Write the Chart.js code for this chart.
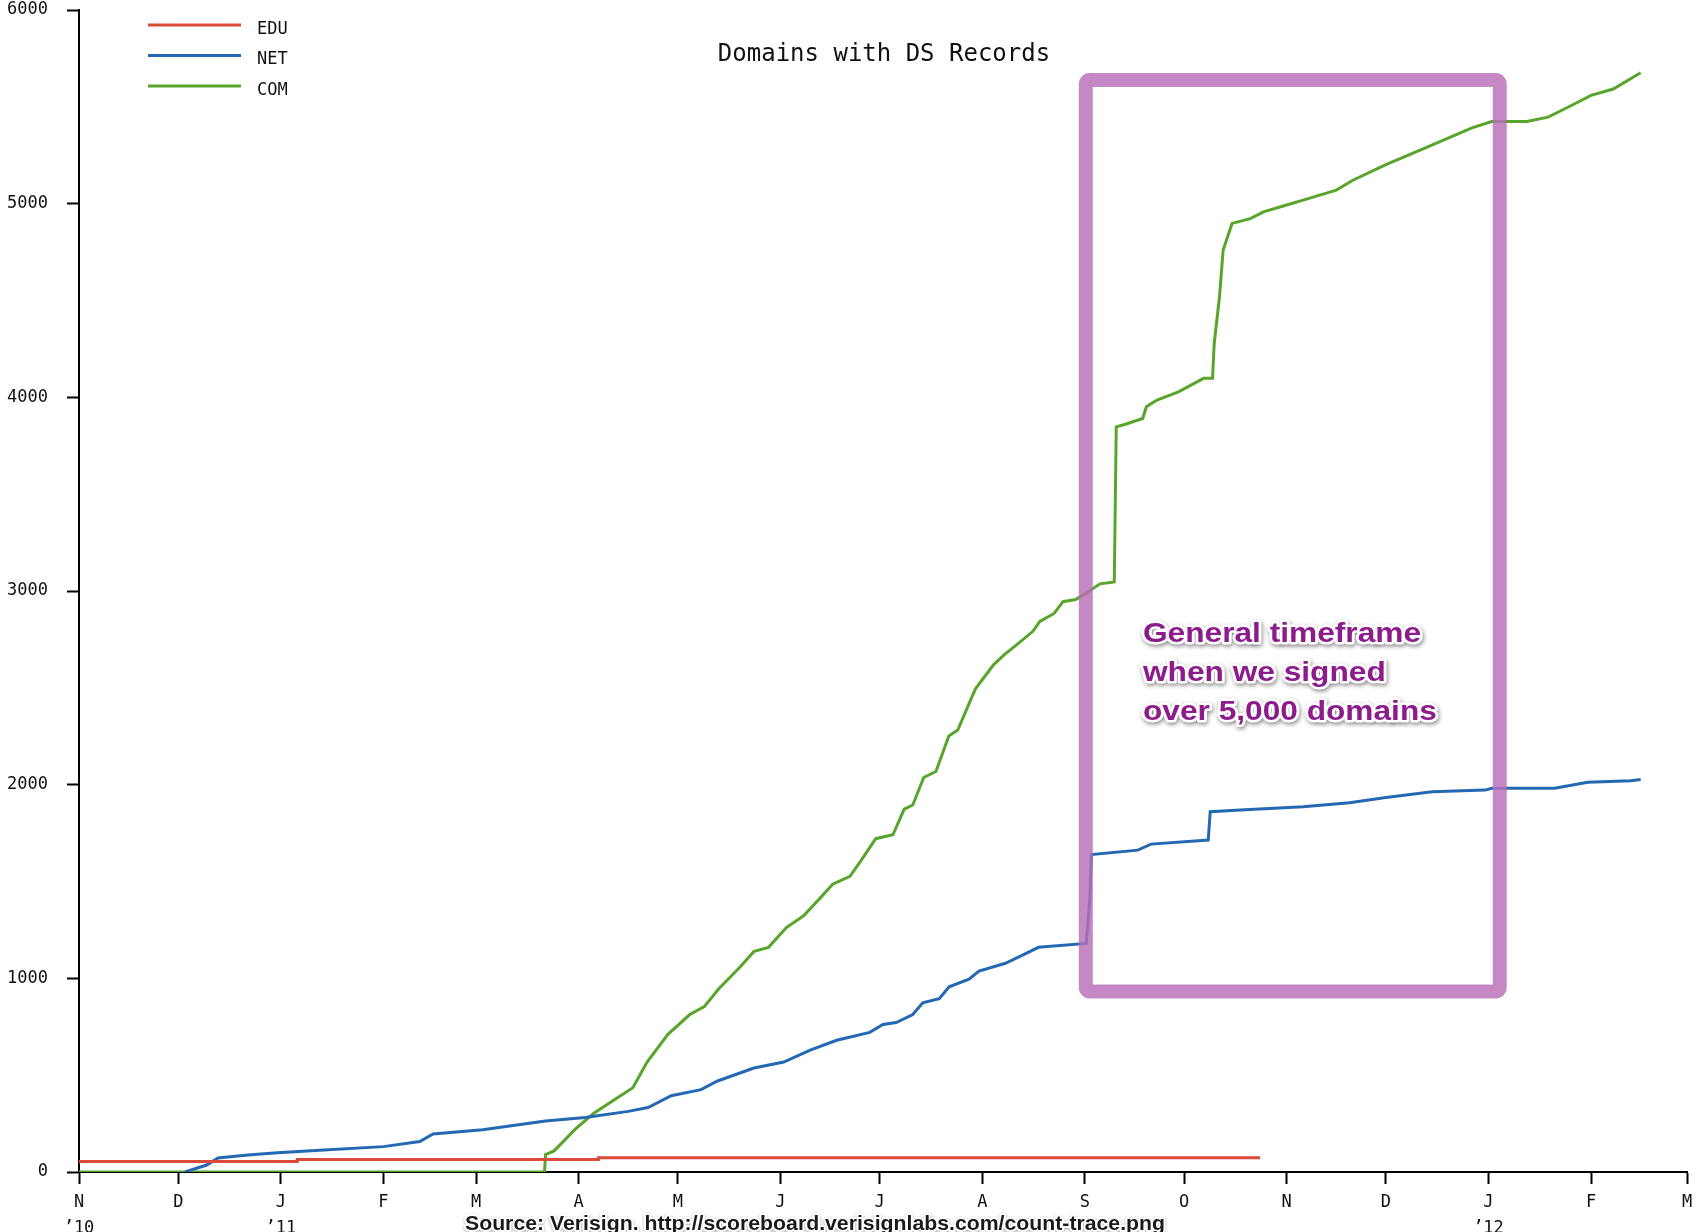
<!DOCTYPE html>
<html>
<head>
<meta charset="utf-8">
<script src="https://cdn.jsdelivr.net/npm/chart.js"></script>
<style>
  html, body { margin: 0; padding: 0; background: #ffffff; }
  #wrap { width: 1698px; height: 1232px; position: relative; overflow: hidden; }
  canvas { display: block; }
</style>
</head>
<body>
<div id="wrap"><canvas id="c" width="1698" height="1232"></canvas></div>
<script>
// ---------- DATA (days since 1 Nov 2010) ----------
const seriesLabels = ['EDU', 'NET', 'COM'];
const seriesColors = ['#dc4a3a', '#2468b4', '#58a52c'];
const seriesStepped = ['after', false, false];

const eduDays   = [0, 66, 157, 286, 357];
const eduValues = [45, 54, 65, 74, 74];

const netDays   = [32, 38.6, 42, 51, 60, 74, 92, 103, 107, 122, 141, 153, 166, 172, 179, 188, 193, 204, 213, 221, 229, 239, 243, 247, 252, 255, 260, 263, 269, 272, 280, 285, 290, 304.4, 305.5, 306, 320, 324, 341.3, 341.9, 351, 370, 384, 395, 409, 425, 427, 446, 456, 469, 472];
const netValues = [0, 36, 72, 88, 100, 114, 131, 157, 196, 218, 263, 282, 313, 333, 394, 425, 470, 537, 568, 629, 680, 721, 762, 772, 813, 874, 895, 956, 996, 1037, 1078, 1119, 1160, 1180, 1400, 1639, 1662, 1693, 1714, 1860, 1869, 1886, 1907, 1934, 1963, 1972, 1981, 1981, 2012, 2020, 2027];

const comDays   = [0, 140.7, 141, 143.6, 150, 155.5, 161, 167.4, 171.7, 178, 184.6, 189, 193.3, 199.8, 204, 208.4, 213.8, 219, 223.5, 227.8, 233, 236.4, 240.8, 246, 249.4, 252, 255.3, 259, 262.9, 265.6, 269.9, 271, 276.4, 279.6, 284, 288.3, 290.4, 294.7, 297.4, 301.2, 304, 308.6, 312.9, 313.5, 316, 321.5, 322.6, 325.8, 332.3, 339.9, 342.6, 343.1, 344.7, 345.8, 348.5, 354, 358, 364.7, 370, 380, 385, 395, 408, 421, 427, 437.6, 444, 450.6, 457, 463.7, 472];
const comValues = [0, 0, 90, 109, 221, 302, 364, 435, 568, 711, 813, 854, 945, 1058, 1139, 1160, 1262, 1323, 1405, 1486, 1527, 1609, 1721, 1741, 1874, 1895, 2037, 2068, 2251, 2282, 2455, 2496, 2619, 2670, 2731, 2792, 2843, 2884, 2945, 2956, 2985, 3037, 3047, 3848, 3860, 3891, 3951, 3986, 4028, 4098, 4098, 4278, 4519, 4760, 4898, 4923, 4958, 4992, 5018, 5070, 5121, 5201, 5296, 5391, 5424, 5424, 5447, 5503, 5559, 5592, 5676];

const monthTickDays   = [0, 30, 61, 92, 120, 151, 181, 212, 242, 273, 304, 334, 365, 395, 426, 457, 486];
const monthTickLabels = ['N', 'D', 'J', 'F', 'M', 'A', 'M', 'J', 'J', 'A', 'S', 'O', 'N', 'D', 'J', 'F', 'M'];
const yearTickLabels  = ['\u201910', '', '\u201911', '', '', '', '', '', '', '', '', '', '', '', '\u201912', '', ''];
const yTickValues     = [0, 1000, 2000, 3000, 4000, 5000, 6000];

const titleText = 'Domains with DS Records';
const boxDays   = [304.3, 429.4];
const boxValues = [932, 5638];
const noteLines = ['General timeframe', 'when we signed', 'over 5,000 domains'];
const sourceText = 'Source: Verisign. http://scoreboard.verisignlabs.com/count-trace.png';

// ---------- build ----------
function zip(xs, ys) { return xs.map((x, i) => ({ x: x, y: ys[i] })); }
const seriesDays = [eduDays, netDays, comDays];
const seriesVals = [eduValues, netValues, comValues];

const datasets = seriesLabels.map((lab, i) => ({
  label: lab,
  data: zip(seriesDays[i], seriesVals[i]),
  borderColor: seriesColors[i],
  backgroundColor: seriesColors[i],
  borderWidth: 3,
  pointRadius: 0,
  tension: 0,
  stepped: seriesStepped[i],
  fill: false
}));

const MONO = '"DejaVu Sans Mono", monospace';

const overlay = {
  id: 'overlay',
  afterDraw(chart) {
    const ctx = chart.ctx;
    const xs = chart.scales.x, ys = chart.scales.y;
    ctx.save();

    // title
    ctx.font = '24px ' + MONO;
    ctx.fillStyle = '#111';
    ctx.textAlign = 'center';
    ctx.textBaseline = 'alphabetic';
    ctx.fillText(titleText, 884, 61);

    // legend
    chart.data.datasets.forEach((ds, i) => {
      const ly = 25 + i * 30.5;
      ctx.strokeStyle = ds.borderColor;
      ctx.lineWidth = 3;
      ctx.beginPath();
      ctx.moveTo(148, ly);
      ctx.lineTo(241, ly);
      ctx.stroke();
      ctx.font = '17px ' + MONO;
      ctx.fillStyle = '#111';
      ctx.textAlign = 'left';
      ctx.textBaseline = 'middle';
      ctx.fillText(ds.label, 257, ly + 4.5);
    });

    // highlight box
    const bx0 = xs.getPixelForValue(boxDays[0]);
    const bx1 = xs.getPixelForValue(boxDays[1]);
    const by0 = ys.getPixelForValue(boxValues[1]);
    const by1 = ys.getPixelForValue(boxValues[0]);
    ctx.strokeStyle = 'rgba(184,110,184,0.82)';
    ctx.lineWidth = 14;
    ctx.lineJoin = 'round';
    ctx.beginPath();
    if (ctx.roundRect) ctx.roundRect(bx0, by0, bx1 - bx0, by1 - by0, 4);
    else ctx.rect(bx0, by0, bx1 - bx0, by1 - by0);
    ctx.stroke();

    // annotation text
    ctx.font = 'bold 28px "Liberation Sans", Arial, sans-serif';
    ctx.textAlign = 'left';
    ctx.textBaseline = 'alphabetic';
    const w0 = ctx.measureText(noteLines[0]).width;
    const sx = 278 / w0;
    const baselines = [641.5, 680.5, 720];
    noteLines.forEach((t, i) => {
      ctx.save();
      ctx.translate(1143, baselines[i]);
      ctx.scale(sx, 1);
      ctx.shadowColor = 'rgba(0,0,0,0.45)';
      ctx.shadowBlur = 4;
      ctx.shadowOffsetX = 1;
      ctx.shadowOffsetY = 2;
      ctx.strokeStyle = '#ffffff';
      ctx.lineWidth = 5;
      ctx.lineJoin = 'round';
      ctx.strokeText(t, 0, 0);
      ctx.shadowColor = 'transparent';
      ctx.fillStyle = '#8c1c8c';
      ctx.fillText(t, 0, 0);
      ctx.restore();
    });

    // source text
    ctx.font = 'bold 21px "Liberation Sans", Arial, sans-serif';
    const ws = ctx.measureText(sourceText).width;
    const ssx = 700 / ws;
    ctx.save();
    ctx.translate(465, 1230);
    ctx.scale(ssx, 1);
    ctx.shadowColor = 'rgba(0,0,0,0.35)';
    ctx.shadowBlur = 3;
    ctx.shadowOffsetY = 1;
    ctx.strokeStyle = '#ffffff';
    ctx.lineWidth = 4;
    ctx.lineJoin = 'round';
    ctx.strokeText(sourceText, 0, 0);
    ctx.shadowColor = 'transparent';
    ctx.fillStyle = '#1a1a1a';
    ctx.fillText(sourceText, 0, 0);
    ctx.restore();

    ctx.restore();
  }
};

new Chart(document.getElementById('c').getContext('2d'), {
  type: 'line',
  data: { datasets: datasets },
  options: {
    responsive: false,
    animation: false,
    devicePixelRatio: 1,
    layout: { padding: { top: 10, right: 11, left: 0, bottom: 0 } },
    plugins: { legend: { display: false }, tooltip: { enabled: false }, title: { display: false } },
    scales: {
      x: {
        type: 'linear',
        min: monthTickDays[0],
        max: monthTickDays[monthTickDays.length - 1],
        afterBuildTicks: (s) => { s.ticks = monthTickDays.map(v => ({ value: v })); },
        afterFit: (s) => { s.height = 60; s.paddingLeft = 0; s.paddingRight = 0; },
        ticks: {
          autoSkip: false,
          maxRotation: 0,
          minRotation: 0,
          padding: 6,
          color: '#111',
          font: { family: MONO, size: 17, lineHeight: 1.5 },
          callback: (v, i) => yearTickLabels[i] ? [monthTickLabels[i], yearTickLabels[i]] : monthTickLabels[i]
        },
        grid: { drawOnChartArea: false, drawTicks: true, tickLength: 12, tickColor: '#000', tickWidth: 2 },
        border: { display: true, color: '#000', width: 2 }
      },
      y: {
        min: yTickValues[0],
        max: yTickValues[yTickValues.length - 1],
        afterBuildTicks: (s) => { s.ticks = yTickValues.map(v => ({ value: v })); },
        afterFit: (s) => { s.width = 79; s.paddingTop = 0; s.paddingBottom = 0; },
        ticks: {
          padding: 19,
          color: '#111',
          font: { family: MONO, size: 17 },
          callback: (v) => String(v)
        },
        grid: { drawOnChartArea: false, drawTicks: true, tickLength: 12, tickColor: '#000', tickWidth: 2 },
        border: { display: true, color: '#000', width: 2 }
      }
    }
  },
  plugins: [overlay]
});
</script>
</body>
</html>
